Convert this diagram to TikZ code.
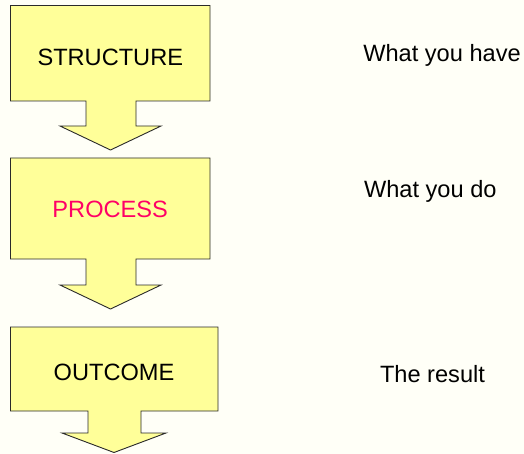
\documentclass[tikz,border=0pt]{standalone}
\usepackage{fontspec}
\setmainfont{Liberation Sans}
\definecolor{paper}{HTML}{FFFFF7}
\definecolor{boxfill}{HTML}{FFFF99}
\definecolor{boxline}{HTML}{2A2A2A}
\definecolor{accent}{HTML}{FF0066}
\tikzset{
  calloutshape/.style={fill=boxfill, draw=boxline, line width=0.9pt, line join=miter},
  label/.style={inner sep=0pt, anchor=base, font=\fontsize{23.6}{28}\selectfont}
}
% downward arrow callout: box, stem and arrow head
% #1 left, #2 top, #3 right, #4 box bottom, #5 stem left, #6 stem right,
% #7 shoulder y, #8 head left, #9 head right; tip given by \tipx/\tipy
\newcommand{\downcallout}[9]{%
  \draw[calloutshape] (#1,#2) -- (#3,#2) -- (#3,#4) -- (#6,#4) -- (#6,#7)
    -- (#9,#7) -- (\tipx,\tipy) -- (#8,#7) -- (#5,#7) -- (#5,#4) -- (#1,#4) -- cycle;}
\begin{document}
\begin{tikzpicture}[x=1pt,y=-1pt]
  \fill[paper] (0,0) rectangle (524,454);
  \useasboundingbox (0,0) rectangle (524,454);

  \def\tipx{110.5}\def\tipy{150}
  \downcallout{10.5}{5.5}{210}{101}{86}{136}{126}{60}{161}
  \def\tipx{110.5}\def\tipy{309}
  \downcallout{10.5}{158}{210}{259}{86}{136}{285}{60}{161}
  \def\tipx{114}\def\tipy{452.5}
  \downcallout{10.5}{327}{218}{411}{88}{141}{433}{62}{166}

  \node[label] (structure) at (110.3,66) {STRUCTURE};
  \node[label, text=accent] (process) at (110.2,218) {PROCESS};
  \node[label] (outcome) at (114,380) {OUTCOME};

  \node[label] (have) at (442,62) {What you have};
  \node[label] (do) at (430.3,197.7) {What you do};
  \node[label] (result) at (432.5,382) {The result};
\end{tikzpicture}
\end{document}
